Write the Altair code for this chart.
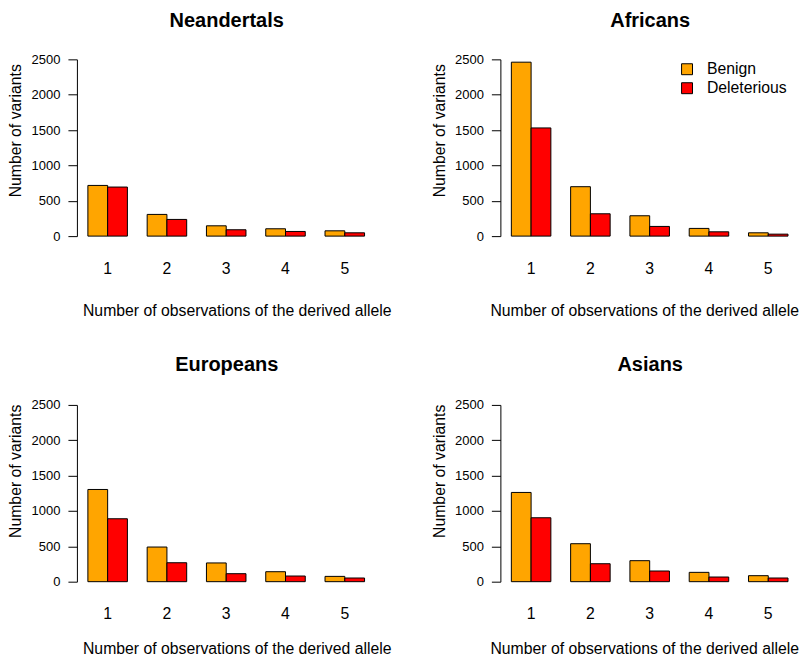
import altair as alt
import pandas as pd

FONT = "Liberation Sans"

obs = ["1", "2", "3", "4", "5"]
types = ["Benign", "Deleterious"]
colors = ["#FFA500", "#FF0000"]

neandertals_benign = [717, 307, 146, 104, 75]
neandertals_deleterious = [694, 236, 90, 66, 47]
africans_benign = [2460, 699, 288, 109, 47]
africans_deleterious = [1530, 316, 137, 61, 28]
europeans_benign = [1304, 490, 265, 141, 75]
europeans_deleterious = [890, 268, 113, 80, 52]
asians_benign = [1262, 537, 297, 132, 85]
asians_deleterious = [904, 254, 151, 66, 52]

y_ticks = [0, 500, 1000, 1500, 2000, 2500]


def panel(name, benign, deleterious, col, row, show_legend=False):
    df = pd.DataFrame({
        "obs": obs * 2,
        "type": [types[0]] * 5 + [types[1]] * 5,
        "count": benign + deleterious,
    })
    if show_legend:
        legend = alt.Legend(
            orient="none", legendX=179, legendY=2, title=None,
            symbolType="square", symbolSize=120, symbolStrokeColor="#000",
            symbolStrokeWidth=1, symbolOpacity=1, labelFontSize=15.8,
            labelFont=FONT, labelColor="#000", labelOffset=12, rowPadding=2,
        )
    else:
        legend = None
    x_title_x = 160 if col == 0 else 144
    x_title_y = 79 if row == 0 else 72
    y_title_y = 71 if row == 0 else 66
    title_offset = 6 if row == 0 else 8
    return alt.Chart(df).mark_bar(stroke="#000", strokeWidth=1).encode(
        x=alt.X(
            "obs:N", title="Number of observations of the derived allele",
            scale=alt.Scale(paddingInner=1 / 3, paddingOuter=0.0925, align=1),
            axis=alt.Axis(
                labelAngle=0, domain=False, ticks=False, tickSize=0,
                labelPadding=37, labelBaseline="alphabetic", labelFontSize=15.8,
                titleFontSize=15.8, titleFontWeight="normal", titleX=x_title_x,
                titleY=x_title_y, titleBaseline="alphabetic", titleAlign="center",
            ),
        ),
        xOffset=alt.XOffset("type:N", sort=types,
                            scale=alt.Scale(paddingInner=0, paddingOuter=0)),
        y=alt.Y(
            "count:Q", title="Number of variants",
            scale=alt.Scale(domain=[0, 2500], nice=False, zero=True),
            axis=alt.Axis(
                values=y_ticks, format="d", grid=False, tickSize=9, labelPadding=8,
                labelFontSize=13, labelFlush=False, titleFontSize=15.8,
                titleFontWeight="normal", titleX=-56, titleY=y_title_y,
                titleBaseline="alphabetic", titleAlign="center", titleAngle=270,
            ),
        ),
        color=alt.Color(
            "type:N",
            scale=alt.Scale(domain=types, range=colors),
            legend=legend,
        ),
    ).properties(
        width=288, height=177,
        title=alt.Title(name, fontSize=20, fontWeight="bold", font=FONT,
                        offset=title_offset, baseline="alphabetic",
                        anchor="middle", frame="group", dx=6),
    )


chart = alt.concat(
    panel("Neandertals", neandertals_benign, neandertals_deleterious, 0, 0),
    panel("Africans", africans_benign, africans_deleterious, 1, 0, show_legend=True),
    panel("Europeans", europeans_benign, europeans_deleterious, 0, 1),
    panel("Asians", asians_benign, asians_deleterious, 1, 1),
    columns=2,
    spacing=alt.RowColnumber(row=169, column=136),
    bounds="flush",
).resolve_scale(color="independent").properties(
    padding={"top": 3, "left": 0, "right": 0, "bottom": 0}
).configure_view(
    stroke=None
).configure_axis(
    labelFont=FONT, titleFont=FONT, labelColor="#000", titleColor="#000",
    domainColor="#000", tickColor="#000", domainWidth=1, tickWidth=1,
).configure_title(color="#000")

chart.save("out.html", embed_options={"renderer": "svg", "actions": False})
